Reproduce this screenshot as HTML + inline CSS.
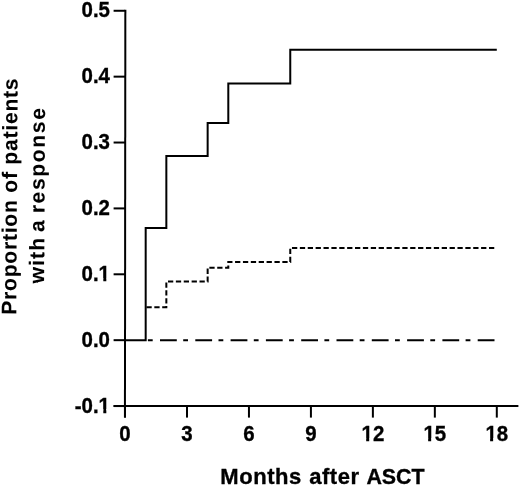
<!DOCTYPE html>
<html><head><meta charset="utf-8"><style>
html,body{margin:0;padding:0;background:#fff;}
body{width:520px;height:487px;overflow:hidden;}
svg{display:block;will-change:transform;}
text{font-family:"Liberation Sans",sans-serif;font-weight:bold;font-size:21px;fill:#000;stroke:#000;stroke-width:0.35px;}
.d text{font-size:22px;}
</style></head><body>
<svg width="520" height="487" viewBox="0 0 520 487">
<g stroke="#000" stroke-width="2.0" fill="none" stroke-linecap="butt" stroke-linejoin="miter">
<line x1="125.35" y1="9.77" x2="124.95" y2="417.6"/>
<line x1="113.6" y1="406.05" x2="518.4" y2="406.05"/>
<line x1="113.6" y1="10.77" x2="125.10" y2="10.77"/><line x1="113.6" y1="76.65" x2="125.10" y2="76.65"/><line x1="113.6" y1="142.53" x2="125.10" y2="142.53"/><line x1="113.6" y1="208.41" x2="125.10" y2="208.41"/><line x1="113.6" y1="274.29" x2="125.10" y2="274.29"/><line x1="113.6" y1="340.17" x2="125.10" y2="340.17"/><line x1="113.6" y1="406.05" x2="125.10" y2="406.05"/>
<line x1="125.03" y1="406" x2="125.03" y2="417.6"/><line x1="186.99" y1="406" x2="186.99" y2="417.6"/><line x1="248.95" y1="406" x2="248.95" y2="417.6"/><line x1="310.92" y1="406" x2="310.92" y2="417.6"/><line x1="372.88" y1="406" x2="372.88" y2="417.6"/><line x1="434.84" y1="406" x2="434.84" y2="417.6"/><line x1="496.80" y1="406" x2="496.80" y2="417.6"/>
<line x1="145.68" y1="340.2" x2="496.80" y2="340.2" stroke-dasharray="16.8 6.4 4.8 7.3" stroke-dashoffset="20.98"/>
<polyline points="145.68,307.24 166.34,307.24 166.34,281.50 207.65,281.50 207.65,267.70 228.30,267.70 228.30,261.90 290.26,261.90 290.26,247.90 496.80,247.90" stroke-dasharray="5.28 2.60" stroke-dashoffset="7.12"/>
<polyline points="125.03,340.20 145.68,340.20 145.68,227.94 166.34,227.94 166.34,155.94 207.65,155.94 207.65,122.88 228.30,122.88 228.30,83.58 290.26,83.58 290.26,49.77 496.80,49.77"/>
</g>
<g class="d">
<text transform="translate(110.00,17.47) scale(0.93,1)" text-anchor="end">0.5</text>
<text transform="translate(110.00,83.35) scale(0.93,1)" text-anchor="end">0.4</text>
<text transform="translate(110.00,149.23) scale(0.93,1)" text-anchor="end">0.3</text>
<text transform="translate(110.00,215.11) scale(0.93,1)" text-anchor="end">0.2</text>
<text transform="translate(110.00,280.99) scale(0.93,1)" text-anchor="end">0.1</text>
<text transform="translate(110.00,346.87) scale(0.93,1)" text-anchor="end">0.0</text>
<text transform="translate(110.00,412.75) scale(0.93,1)" text-anchor="end">-0.1</text>
<text transform="translate(125.03,441.0) scale(0.93,1)" text-anchor="middle">0</text>
<text transform="translate(186.99,441.0) scale(0.93,1)" text-anchor="middle">3</text>
<text transform="translate(248.95,441.0) scale(0.93,1)" text-anchor="middle">6</text>
<text transform="translate(310.92,441.0) scale(0.93,1)" text-anchor="middle">9</text>
<text transform="translate(372.88,441.0) scale(0.93,1)" text-anchor="middle">12</text>
<text transform="translate(434.84,441.0) scale(0.93,1)" text-anchor="middle">15</text>
<text transform="translate(496.80,441.0) scale(0.93,1)" text-anchor="middle">18</text>
</g>
<g fill="#fff"><rect x="99.03" y="278" width="4.27" height="4"/><rect x="106.32" y="278" width="3.86" height="4"/><rect x="99.03" y="409" width="4.27" height="5"/><rect x="106.32" y="409" width="3.86" height="5"/><rect x="361.91" y="438" width="4.27" height="4"/><rect x="369.20" y="438" width="3.86" height="4"/><rect x="423.87" y="438" width="4.27" height="4"/><rect x="431.16" y="438" width="3.86" height="4"/><rect x="485.84" y="438" width="4.27" height="4"/><rect x="493.13" y="438" width="3.86" height="4"/></g>
<text x="220.3" y="484.3" style="font-size:22px" letter-spacing="0.55">Months<tspan dx="0.7"> after</tspan></text>
<text transform="translate(366.4,484.3) scale(0.972,1)" style="font-size:22px">ASCT</text>
<text transform="translate(16.2,314.8) rotate(-89.65)" style="stroke-width:0.1px" letter-spacing="0.81">Proportion of patients</text>
<text transform="translate(44,283.6) rotate(-89.67)" style="stroke-width:0.1px" letter-spacing="1.2">with<tspan dx="-2.2"> a</tspan><tspan dx="-1.8" letter-spacing="1.7"> response</tspan></text>
</svg>
</body></html>
